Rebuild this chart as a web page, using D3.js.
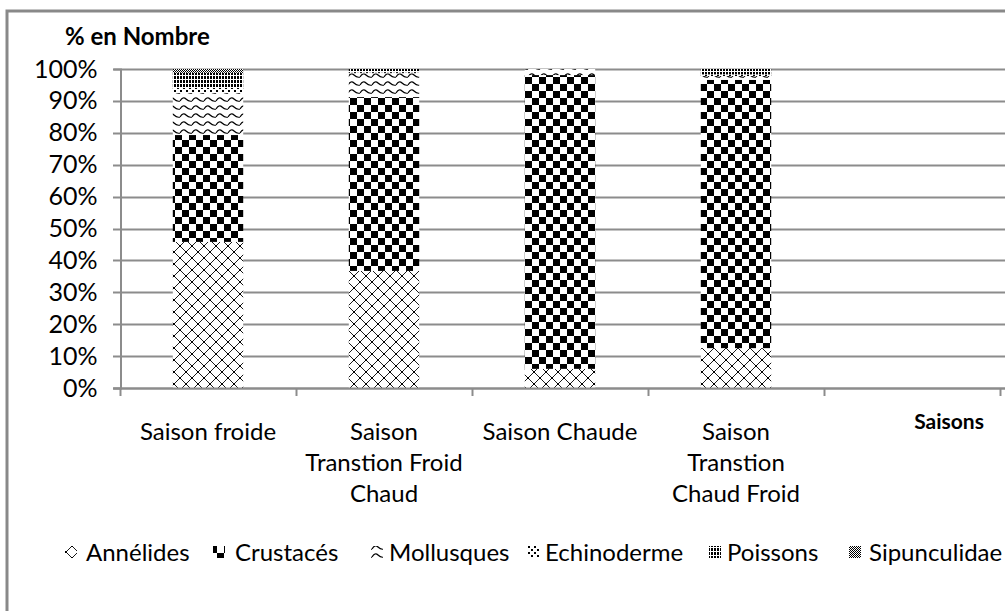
<!DOCTYPE html>
<html><head><meta charset="utf-8">
<script src="https://cdn.jsdelivr.net/npm/d3@7"></script>
<style>
html,body{margin:0;padding:0;background:#fff;}
text{font-family:Lato,"Open Sans",sans-serif;}
</style></head>
<body>
<svg id="c" width="1005" height="611"></svg>
<script>
const categories = ["Saison froide", "Saison Transtion Froid Chaud", "Saison Chaude", "Saison Transtion Chaud Froid", ""];
const categoryLines = [["Saison froide"], ["Saison", "Transtion Froid", "Chaud"], ["Saison Chaude"], ["Saison", "Transtion", "Chaud Froid"], []];
const seriesNames = ["Annélides", "Crustacés", "Mollusques", "Echinoderme", "Poissons", "Sipunculidae"];
const annelides    = [45.8, 36.7, 6.0, 12.5];
const crustaces    = [33.5, 54.5, 92.1, 84.1];
const mollusques   = [13.2, 7.5, 1.9, 1.2];
const echinoderme  = [1.6, 0.3, 0.0, 0.5];
const poissons     = [4.7, 1.0, 0.0, 1.7];
const sipunculidae = [1.2, 0.0, 0.0, 0.0];
const yTicks = [0, 10, 20, 30, 40, 50, 60, 70, 80, 90, 100];
const yTitle = "% en Nombre";
const xTitle = "Saisons";

const seriesValues = [annelides, crustaces, mollusques, echinoderme, poissons, sipunculidae];
const rows = categories.slice(0, 4).map((c, i) => {
  const r = {cat: c};
  seriesNames.forEach((s, j) => r[s] = seriesValues[j][i]);
  return r;
});

const svg = d3.select("#c");
const defs = svg.append("defs");

const patIds = ["pAnn", "pCru", "pMol", "pEch", "pPoi", "pSip"];
// Annélides: trellis diamonds
let p = defs.append("pattern").attr("id", "pAnn").attr("patternUnits", "userSpaceOnUse").attr("width", 12).attr("height", 12);
p.append("rect").attr("width", 12).attr("height", 12).attr("fill", "#fff");
p.append("path").attr("d", "M0,6 L6,0 L12,6 L6,12 Z").attr("fill", "none").attr("stroke", "#000").attr("stroke-width", 0.9);
p.append("rect").attr("x", 5).attr("y", -1).attr("width", 2).attr("height", 2).attr("fill", "#000");
p.append("rect").attr("x", 5).attr("y", 11).attr("width", 2).attr("height", 2).attr("fill", "#000");
p.append("rect").attr("x", -1).attr("y", 5).attr("width", 2).attr("height", 2).attr("fill", "#000");
p.append("rect").attr("x", 11).attr("y", 5).attr("width", 2).attr("height", 2).attr("fill", "#000");
// Crustacés: large checkerboard
p = defs.append("pattern").attr("id", "pCru").attr("patternUnits", "userSpaceOnUse").attr("width", 14).attr("height", 14);
p.append("rect").attr("width", 14).attr("height", 14).attr("fill", "#fff");
p.append("rect").attr("x", 0).attr("y", 0).attr("width", 7).attr("height", 7).attr("fill", "#000");
p.append("rect").attr("x", 7).attr("y", 7).attr("width", 7).attr("height", 7).attr("fill", "#000");
// Mollusques: waves
p = defs.append("pattern").attr("id", "pMol").attr("patternUnits", "userSpaceOnUse").attr("width", 12).attr("height", 8);
p.append("rect").attr("width", 12).attr("height", 8).attr("fill", "#fff");
p.append("path").attr("d", "M0,5 Q3,0 6,3 Q9,6 12,5").attr("fill", "none").attr("stroke", "#000").attr("stroke-width", 1.2);
// Echinoderme: sparse dots
p = defs.append("pattern").attr("id", "pEch").attr("patternUnits", "userSpaceOnUse").attr("width", 6).attr("height", 6);
p.append("rect").attr("width", 6).attr("height", 6).attr("fill", "#fff");
p.append("rect").attr("x", 0).attr("y", 0).attr("width", 2).attr("height", 2).attr("fill", "#000");
p.append("rect").attr("x", 3).attr("y", 3).attr("width", 2).attr("height", 2).attr("fill", "#000");
// Poissons: dense vertical stripes
p = defs.append("pattern").attr("id", "pPoi").attr("patternUnits", "userSpaceOnUse").attr("width", 3).attr("height", 4);
p.append("rect").attr("width", 3).attr("height", 4).attr("fill", "#fff");
p.append("rect").attr("x", 0).attr("y", 0).attr("width", 2).attr("height", 3).attr("fill", "#000");
// Sipunculidae: fine 50% dots
p = defs.append("pattern").attr("id", "pSip").attr("patternUnits", "userSpaceOnUse").attr("width", 2).attr("height", 2);
p.append("rect").attr("width", 2).attr("height", 2).attr("fill", "#fff");
p.append("rect").attr("x", 0).attr("y", 0).attr("width", 1).attr("height", 1).attr("fill", "#000");
p.append("rect").attr("x", 1).attr("y", 1).attr("width", 1).attr("height", 1).attr("fill", "#000");

// Outer frame
svg.append("path").attr("d", "M7,611 L7,11 L1005,11").attr("fill", "none").attr("stroke", "#898989").attr("stroke-width", 3);

const x = d3.scaleBand().domain(categories.map((c, i) => i)).range([120, 1000]).paddingInner(0.6).paddingOuter(0.3);
const y = d3.scaleLinear().domain([0, 100]).range([388, 69]);

// gridlines
svg.append("g").selectAll("line").data(yTicks).join("line")
  .attr("x1", 113).attr("x2", 1005)
  .attr("y1", d => Math.round(y(d)) + 0.5).attr("y2", d => Math.round(y(d)) + 0.5)
  .attr("stroke", "#8c8c8c").attr("stroke-width", 2);

// y axis
const yAxis = d3.axisLeft(y).tickValues(yTicks).tickFormat(d => d + "%").tickSize(7).tickPadding(16);
const gy = svg.append("g").attr("transform", "translate(120.5,0)").call(yAxis);
gy.select(".domain").attr("stroke", "#8c8c8c").attr("stroke-width", 2);
gy.selectAll(".tick line").remove();
gy.selectAll(".tick text").attr("font-size", 25).attr("fill", "#000").attr("font-family", "Lato, 'Open Sans', sans-serif");

// stacked bars
const stack = d3.stack().keys(seriesNames);
const stacked = stack(rows);
svg.append("g").selectAll("g").data(stacked).join("g")
  .attr("fill", (d, i) => "url(#" + patIds[i] + ")")
  .selectAll("rect").data(d => d).join("rect")
  .attr("x", (d, i) => x(i))
  .attr("width", x.bandwidth())
  .attr("y", d => y(d[1]))
  .attr("height", d => Math.max(0, y(d[0]) - y(d[1])));

// x axis
const boundaries = categories.map((c, i) => x(i) - x.step() * x.paddingInner() / 2).concat([1000]);
svg.append("line").attr("x1", 113).attr("x2", 1005).attr("y1", 388.5).attr("y2", 388.5).attr("stroke", "#8c8c8c").attr("stroke-width", 2);
svg.append("g").selectAll("line").data(boundaries).join("line")
  .attr("x1", d => Math.round(d) + 0.5).attr("x2", d => Math.round(d) + 0.5)
  .attr("y1", 388).attr("y2", 396).attr("stroke", "#8c8c8c").attr("stroke-width", 2);

// category labels
svg.append("g").selectAll("text").data(categoryLines).join("text")
  .attr("x", (d, i) => x(i) + x.bandwidth() / 2)
  .attr("y", 440)
  .attr("text-anchor", "middle").attr("font-size", 24).attr("fill", "#000")
  .selectAll("tspan").data(d => d).join("tspan")
  .attr("x", function () { return d3.select(this.parentNode).attr("x"); })
  .attr("dy", (d, i) => i === 0 ? 0 : 31)
  .text(d => d);

// titles
svg.append("text").attr("x", 65).attr("y", 45).attr("font-size", 24).attr("font-weight", "bold").attr("fill", "#000").text(yTitle);
svg.append("text").attr("x", 949).attr("y", 429).attr("font-size", 21).attr("font-weight", "bold").attr("fill", "#000").attr("text-anchor", "middle").text(xTitle);

// legend
const legendSym = [65, 213, 371, 528, 709, 849];
const legendTxt = [86, 235, 389, 545, 727, 869];
const lg = svg.append("g").selectAll("g").data(seriesNames).join("g");
lg.append("rect").attr("x", (d, i) => legendSym[i]).attr("y", 546).attr("width", 12).attr("height", 12)
  .attr("fill", (d, i) => "url(#" + patIds[i] + ")");
lg.append("text").attr("x", (d, i) => legendTxt[i]).attr("y", 561).attr("font-size", 24).attr("fill", "#000").text(d => d);
</script>
</body></html>
